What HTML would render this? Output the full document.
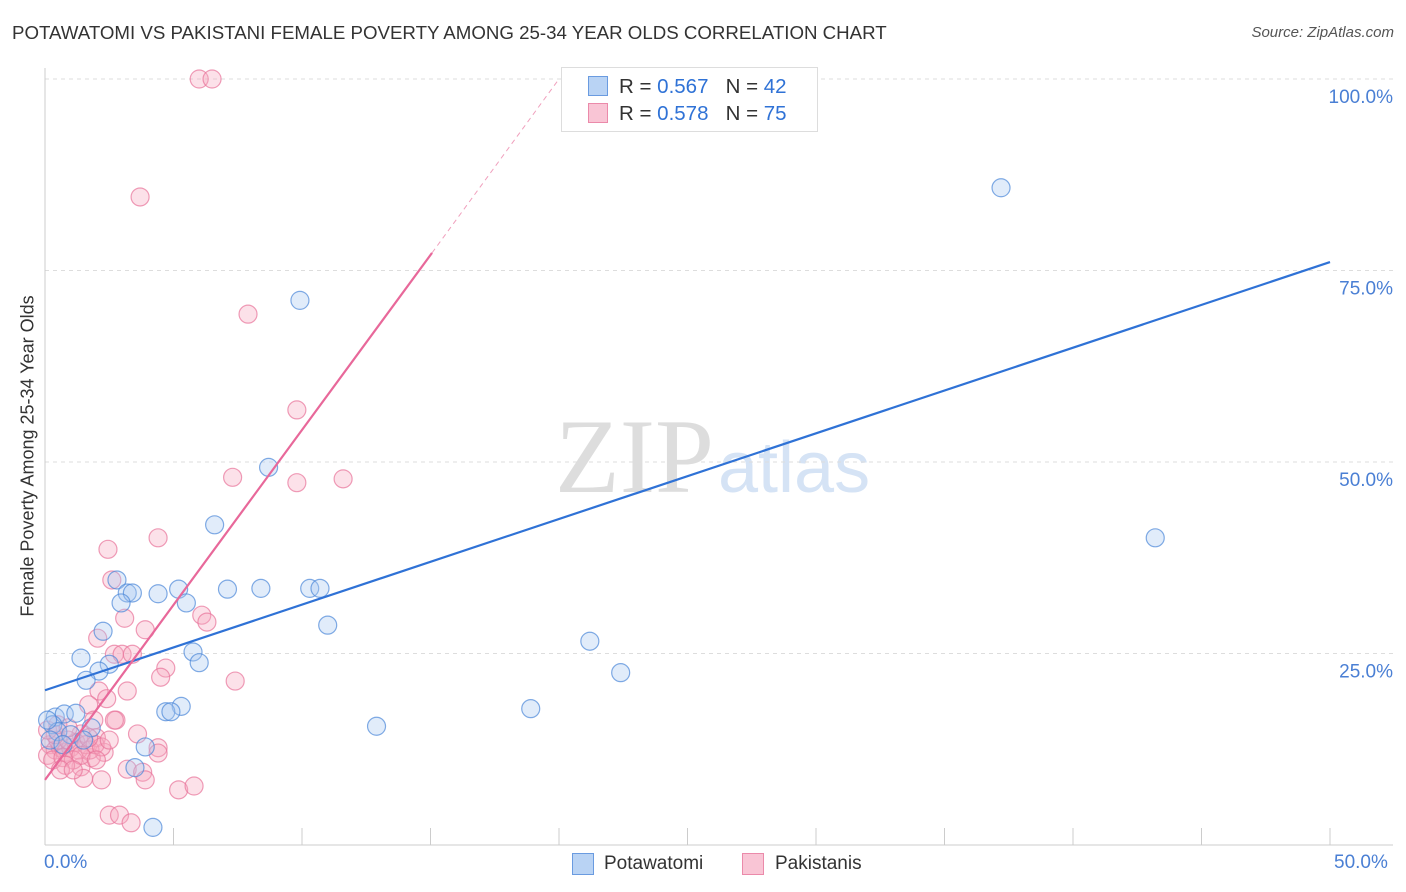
<!DOCTYPE html>
<html><head><meta charset="utf-8">
<style>
body{margin:0;background:#fff;font-family:"Liberation Sans",sans-serif;}
#wrap{position:relative;width:1406px;height:892px;overflow:hidden;}
.t{position:absolute;white-space:nowrap;}
</style></head>
<body>
<div id="wrap">
<div class="t" style="left:12px;top:22px;font-size:18.7px;color:#333;">POTAWATOMI VS PAKISTANI FEMALE POVERTY AMONG 25-34 YEAR OLDS CORRELATION CHART</div>
<div class="t" style="right:12px;top:24px;font-size:15px;color:#555;font-style:italic;">Source: ZipAtlas.com</div>
<svg id="svg" width="1406" height="892" style="position:absolute;left:0;top:0;"></svg>
</div>
<script>
const xTicks=[0,5,10,15,20,25,30,35,40,45,50];
const yTicks=[25,50,75,100];
const yTickLabels=["25.0%","50.0%","75.0%","100.0%"];
const blueX=[9.92,37.2,43.2,8.7,6.6,2.8,3.2,3.4,2.96,4.4,5.2,5.5,7.1,8.4,10.3,10.7,11.0,2.26,1.4,2.5,2.1,1.6,5.76,6.0,21.2,22.4,18.9,12.9,5.3,4.7,4.9,3.9,3.5,4.2,0.4,0.75,1.2,0.3,0.5,1.8,0.2,0.1,1.0,0.7,1.5];
const blueY=[71.1,85.8,40.1,49.3,41.8,34.6,32.9,32.9,31.6,32.8,33.4,31.6,33.4,33.5,33.5,33.5,28.7,27.9,24.4,23.6,22.7,21.5,25.2,23.8,26.6,22.5,17.8,15.5,18.1,17.4,17.4,12.8,10.1,2.3,16.7,17.1,17.2,15.7,14.8,15.3,13.7,16.3,14.4,13.1,13.7];
const pinkX=[6.0,6.5,3.7,7.9,9.8,7.3,9.8,11.6,4.4,2.45,2.6,6.1,6.3,3.1,3.9,2.05,2.7,3.0,3.4,4.7,4.5,7.4,3.2,2.1,2.4,1.7,2.76,2.7,1.9,1.4,3.6,2.0,4.4,2.3,4.4,1.8,1.4,3.2,3.8,3.9,2.2,1.5,2.5,2.9,5.2,5.8,3.35,0.2,0.4,0.6,0.8,1.0,0.5,1.2,0.1,0.3,0.7,0.9,1.3,1.6,1.1,1.75,0.4,0.8,0.1,1.4,1.95,0.6,2.2,1.7,2.5,1.1,0.5,0.9,2.0];
const pinkY=[100,100,84.6,69.3,56.8,48.0,47.3,47.8,40.1,38.6,34.6,30.0,29.1,29.6,28.1,27.0,24.9,24.9,24.9,23.1,21.9,21.4,20.1,20.1,19.1,18.3,16.3,16.3,16.3,14.5,14.5,14.0,12.7,12.1,12.0,11.4,10.2,9.9,9.5,8.5,8.5,8.7,3.9,3.9,7.2,7.7,2.9,13.1,12.4,12.7,12.1,12.7,13.7,13.4,11.7,11.1,11.4,13.7,12.4,13.1,11.1,12.4,14.4,10.4,15.0,11.7,13.1,9.8,12.8,14.0,13.7,9.8,15.7,15.3,11.1];
const blueLine=[[0,20.2],[50,76.1]];
const pinkLine=[[0,8.5],[15.06,77.3]];
const pinkDash=[[15.06,77.3],[20.0,100]];
const NS="http://www.w3.org/2000/svg";
const svg=document.getElementById('svg');
const X=v=>45+v*25.7;
const Y=v=>845-v*7.66;
function mk(tag,attrs,parent){const e=document.createElementNS(NS,tag);for(const k in attrs)e.setAttribute(k,attrs[k]);(parent||svg).appendChild(e);return e;}
let w=mk('text',{x:555,y:492,'font-size':106,'font-family':'Liberation Serif,serif',fill:'#ddd'});w.textContent='ZIP';


let w2=mk('text',{x:718,y:492,'font-size':72,'font-family':'Liberation Sans,sans-serif',fill:'#d5e3f5'});w2.textContent='atlas';


yTicks.forEach((t,i)=>{
 const g=mk('line',{x1:45,x2:1393,y1:Y(t),y2:Y(t),stroke:'#ddd','stroke-dasharray':'4,4'});
 
 
 const l=mk('text',{x:1393,y:Y(t)+24,'text-anchor':'end','font-size':19,fill:'#4a7fd4'});l.textContent=yTickLabels[i];
 
 
});
const ax=mk('line',{x1:45,x2:1393,y1:845,y2:845,stroke:'#ccc'});


const ay=mk('line',{x1:45,x2:45,y1:68,y2:845,stroke:'#ccc'});


xTicks.forEach(t=>{const k=mk('line',{x1:X(t),x2:X(t),y1:828,y2:845,stroke:'#ccc'});
 
 });
function pts(xs,ys,fill,stroke,name){xs.forEach((x,i)=>{const c=mk('circle',{cx:X(x),cy:Y(ys[i]),r:9,fill:fill,'fill-opacity':0.35,stroke:stroke,'stroke-opacity':0.7,'stroke-width':1.2});
 
 });}
pts(pinkX,pinkY,'#f7a8bf','#e8739a','pakistani-point');
pts(blueX,blueY,'#a9c8f0','#4b88d8','potawatomi-point');
const bl=mk('line',{x1:X(blueLine[0][0]),y1:Y(blueLine[0][1]),x2:X(blueLine[1][0]),y2:Y(blueLine[1][1]),stroke:'#2f72d6','stroke-width':2.2});


const pl=mk('line',{x1:X(pinkLine[0][0]),y1:Y(pinkLine[0][1]),x2:X(pinkLine[1][0]),y2:Y(pinkLine[1][1]),stroke:'#e8689a','stroke-width':2.2});


const pd=mk('line',{x1:X(pinkDash[0][0]),y1:Y(pinkDash[0][1]),x2:X(pinkDash[1][0]),y2:Y(pinkDash[1][1]),stroke:'#f0a0bd','stroke-width':1,'stroke-dasharray':'5,4'});


</script>
<div class="t" style="left:44px;top:852px;font-size:19px;color:#4a7fd4;">0.0%</div>
<div class="t" style="left:1334px;top:852px;font-size:19px;color:#4a7fd4;">50.0%</div>
<div class="t" style="left:28px;top:456px;font-size:18px;color:#333;transform:translate(-50%,-50%) rotate(-90deg);">Female Poverty Among 25-34 Year Olds</div>
<div style="position:absolute;left:561px;top:67px;width:255px;height:63px;background:#fff;border:1px solid #ddd;font-size:20.5px;color:#333;">
 <div style="position:absolute;left:26px;top:8px;width:18px;height:18px;background:#b9d3f4;border:1px solid #6a9be0;"></div>
 <div class="t" style="left:57px;top:7px;">R = <span style="color:#2f72d6">0.567</span>&nbsp;&nbsp;&nbsp;N = <span style="color:#2f72d6">42</span></div>
 <div style="position:absolute;left:26px;top:35px;width:18px;height:18px;background:#f9c5d5;border:1px solid #eb8aaa;"></div>
 <div class="t" style="left:57px;top:34px;">R = <span style="color:#2f72d6">0.578</span>&nbsp;&nbsp;&nbsp;N = <span style="color:#2f72d6">75</span></div>
</div>
<div style="position:absolute;left:572px;top:853px;width:20px;height:20px;background:#b9d3f4;border:1px solid #6a9be0;"></div>
<div class="t" style="left:604px;top:853px;font-size:19px;color:#333;">Potawatomi</div>
<div style="position:absolute;left:742px;top:853px;width:20px;height:20px;background:#f9c5d5;border:1px solid #eb8aaa;"></div>
<div class="t" style="left:775px;top:853px;font-size:19px;color:#333;">Pakistanis</div>
</body></html>
